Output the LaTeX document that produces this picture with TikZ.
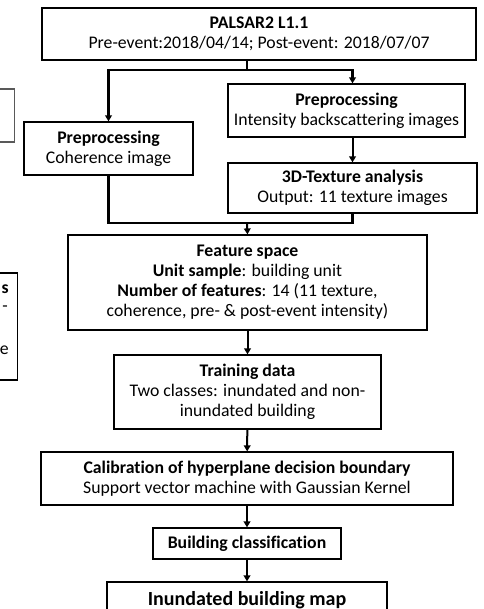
\documentclass[tikz,border=0pt]{standalone}
\usepackage{fontspec}
\setmainfont{Carlito}[Ligatures=NoCommon]
\usetikzlibrary{arrows.meta}

\begin{document}
\begin{tikzpicture}[
  x=0.75pt, y=-0.75pt,
  stepbox/.style={
    rectangle, draw, line width=0.9pt, align=center, inner sep=2pt,
    font=\fontsize{13.3}{15}\selectfont
  },
  frag/.style={font=\fontsize{13.3}{15}\selectfont, anchor=east, inner sep=0pt},
  arr/.style={-{Triangle[length=4.5pt, width=5pt]}, line width=1.5pt},
  joinline/.style={line width=2pt},
]

%% frame of the cropped figure
\useasboundingbox (0,0) rectangle (483,609);
\clip (0,0) rectangle (483,609);

%% boxes cut off at the left edge
\node[stepbox, draw=black!65, minimum width=90pt, minimum height=39.75pt, anchor=east] (leftup) at (15,115.5) {};
\node[stepbox, minimum width=90pt, minimum height=80.25pt, anchor=east] (leftlow) at (18,326.5) {};
\node[frag, font=\fontsize{13.3}{15}\selectfont\bfseries] (fragone) at (9,289) {s};
\node[frag] (fragtwo) at (8,309) {-};
\node[frag] (fragthree) at (9,350) {e};

%% main flow
\node[stepbox, minimum width=325.5pt, minimum height=39pt] (palsar) at (259,34)
  {\textbf{PALSAR2 L1.1}\\Pre-event:2018/04/14; Post-event: 2018/07/07};
\node[stepbox, minimum width=177.75pt, minimum height=39.75pt] (inten) at (346.5,110.5)
  {\textbf{Preprocessing}\\Intensity backscattering images};
\node[stepbox, minimum width=126.75pt, minimum height=39.75pt] (coh) at (108.5,148.5)
  {\textbf{Preprocessing}\\Coherence image};
\node[stepbox, minimum width=186.75pt, minimum height=37.5pt] (tex) at (352.5,188)
  {\textbf{3D-Texture analysis}\\Output: 11 texture images};
\node[stepbox, minimum width=269.25pt, minimum height=71.25pt] (feat) at (247.5,282.5)
  {\textbf{Feature space}\\\textbf{Unit sample}: building unit\\\textbf{Number of features}: 14 (11 texture,\\coherence, pre- \& post-event intensity)};
\node[stepbox, minimum width=200.25pt, minimum height=55.5pt] (train) at (247.5,392)
  {\textbf{Training data}\\Two classes: inundated and non-\\inundated building};
\node[stepbox, minimum width=309pt, minimum height=39.75pt] (calib) at (247,478.5)
  {\textbf{Calibration of hyperplane decision boundary}\\Support vector machine with Gaussian Kernel};
\node[stepbox, minimum width=141pt, minimum height=23.25pt] (classif) at (247,543.5)
  {\textbf{Building classification}};
\node[stepbox, font=\fontsize{15}{17}\selectfont, minimum width=210pt, minimum height=27pt] (final) at (247,600)
  {\textbf{Inundated building map}};

%% split after PALSAR2
\coordinate (split) at (247,70);
\draw[joinline] (palsar.south -| split) -- (split);
\draw[joinline, arr, line width=2pt] (split) -| (coh.north);
\draw[joinline, arr, line width=2pt] (split) -| (inten.north -| tex.north);
\draw[arr] (inten.south -| tex.north) -- (tex.north);

%% merge into feature space
\coordinate (merge) at (247,223);
\draw[joinline] (coh.south) |- (tex.south |- merge) -- (tex.south);
\draw[arr] (merge) -- (feat.north);

\draw[arr] (feat) -- (train);
\draw[arr] (train) -- (calib);
\draw[arr] (calib) -- (classif);
\draw[arr] (classif) -- (final);

\end{tikzpicture}
\end{document}
